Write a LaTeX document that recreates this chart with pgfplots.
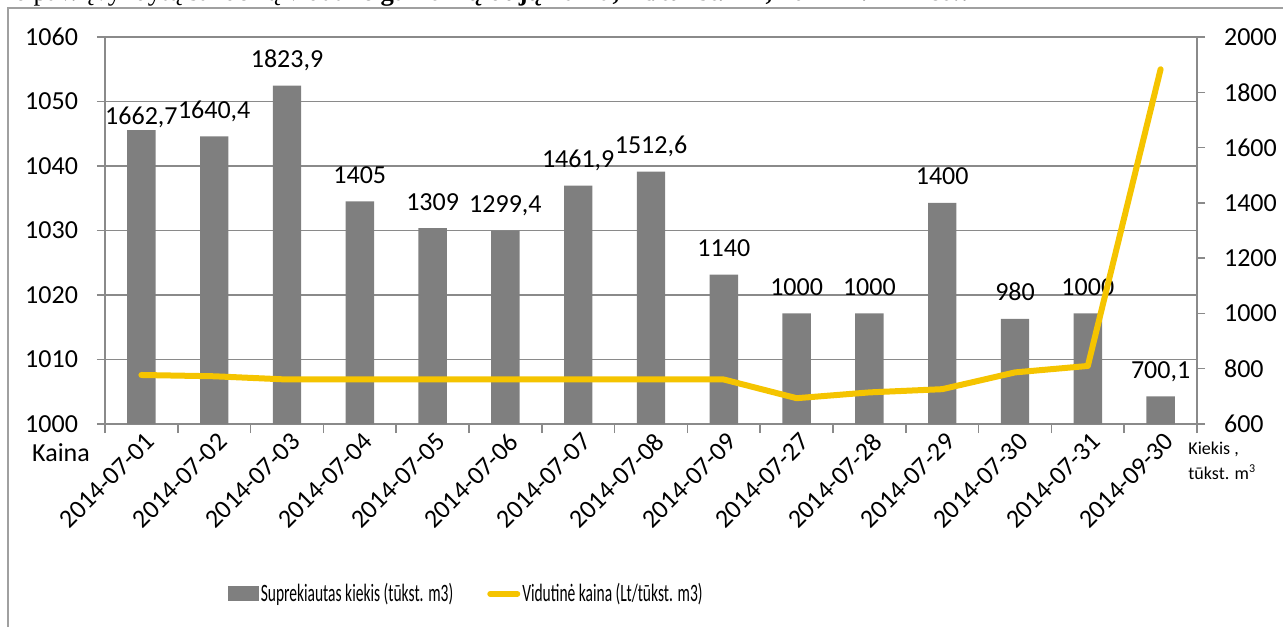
\documentclass[border=0pt]{standalone}
\usepackage{pgfplots}
\pgfplotsset{compat=1.18}
\usepackage{pgfplotstable}
\usepackage{graphicx}
\usepackage{fontspec}
\setmainfont{Carlito}
\newfontfamily\titlefont{Liberation Serif}
\definecolor{barcol}{HTML}{7F7F7F}
\definecolor{linecol}{HTML}{F5C400}
\definecolor{gridcol}{HTML}{8A8A8A}
\definecolor{framecol}{HTML}{A0A0A0}

\pgfplotstableread{
x q lab
0 1662.7 1662,7
1 1640.4 1640,4
2 1823.9 1823,9
3 1405 1405
4 1309 1309
5 1299.4 1299,4
6 1461.9 1461,9
7 1512.6 1512,6
8 1140 1140
9 1000 1000
10 1000 1000
11 1400 1400
12 980 980
13 1000 1000
14 700.1 700,1
}\bars

\pgfplotstableread{
x p
0 1007.6
1 1007.4
2 1006.9
3 1006.9
4 1006.9
5 1006.9
6 1006.9
7 1006.9
8 1006.9
9 1004.0
10 1004.9
11 1005.4
12 1008.0
13 1009.0
14 1055.0
}\price

\newcommand{\tickfont}{\fontsize{13}{15}\selectfont}

\pgfplotsset{
  base/.style={
    scale only axis, width=546pt, height=193.5pt,
    at={(52.5pt,101.5pt)}, anchor=south west,
    xmin=-0.5, xmax=14.5,
    /pgf/number format/assume math mode=true,
    /pgf/number format/1000 sep={},
    tick label style={font=\tickfont},
    axis line style={gridcol, line width=0.75pt},
    tick style={gridcol, line width=0.75pt},
    tick align=outside,
  }
}

\begin{document}
\begin{tikzpicture}[x=1pt,y=1pt]
\useasboundingbox (0,0) rectangle (641.5,313.5);
\begin{scope}
\clip (0,0) rectangle (641.5,313.5);
\node[anchor=base west, inner sep=0pt] at (0,313.3) {\titlefont\fontsize{13.3}{15}\selectfont 16 pav. Įvykdytų sandorių vidutinė \textbf{gamtinių dujų kaina, Lt/tūkst. m\textsuperscript{3}, 2014 m. III ketv.}};
\end{scope}
\draw[framecol, line width=0.75pt] (4,0) -- (4,309.5) -- (642,309.5);

% axis 1: grid, left scale, x axis
\begin{axis}[base,
  ymin=1000, ymax=1060, ytick={1000,1010,...,1060},
  ymajorgrids, grid style={gridcol, line width=0.75pt},
  axis x line*=bottom, axis y line*=left,
  xtick={0,...,14},
  xticklabels={2014-07-01,2014-07-02,2014-07-03,2014-07-04,2014-07-05,2014-07-06,2014-07-07,2014-07-08,2014-07-09,2014-07-27,2014-07-28,2014-07-29,2014-07-30,2014-07-31,2014-09-30},
  major x tick style={draw=none},
  minor xtick={-0.5,0.5,...,14.5},
  minor tick length=4.5pt,
  major tick length=4pt,
  xticklabel style={rotate=45, anchor=east, font=\tickfont, xshift=4.5pt, yshift=-5pt},
  yticklabel style={xshift=-6pt},
]
\addplot[draw=none] coordinates {(0,1000)};
\end{axis}

% axis 2: bars, right scale
\begin{axis}[base,
  ymin=600, ymax=2000, ytick={600,800,...,2000},
  axis y line*=right, axis x line=none,
  major tick length=4pt,
  yticklabel style={xshift=6pt},
  ybar, bar width=14.2pt,
]
\addplot[fill=barcol, draw=none,
  nodes near coords, point meta=explicit symbolic,
  every node near coord/.append style={font=\tickfont, anchor=base, yshift=9pt, text=black},
  coordinate style/.condition={\coordindex==0}{yshift=-6.2pt},
] table[x=x, y=q, meta=lab] {\bars};
\end{axis}

% axis 3: price line
\begin{axis}[base,
  ymin=1000, ymax=1060, axis lines=none,
  legend columns=2,
  legend style={at={(0.1126,-0.439)}, anchor=west, draw=none, fill=none,
    inner sep=0pt, outer sep=0pt,
    nodes={inner xsep=1pt, inner ysep=0pt},
    font=\fontsize{12.5}{14}\selectfont,
    /tikz/every even column/.append style={column sep=16pt}},
]
\addlegendimage{legend image code/.code={\fill[barcol] (0pt,-3.5pt) rectangle (15pt,3.5pt);}}
\addlegendentry{\scalebox{0.62}[1]{Suprekiautas kiekis (tūkst. m3)}}
\addplot[linecol, line width=3pt, line join=round, line cap=round,
  legend image code/.code={\draw[linecol, line width=3pt, line cap=round] (1.5pt,0pt) -- (15pt,0pt);}]
  table[x=x, y=p] {\price};
\addlegendentry{\scalebox{0.62}[1]{Vidutinė kaina (Lt/tūkst. m3)}}
\end{axis}

\node[font=\tickfont] at (30.5,87) {Kaina};
\node[anchor=west, align=left, font=\fontsize{9}{12.5}\selectfont, inner sep=0pt] at (594,83) {Kiekis ,\\tūkst. m\textsuperscript{3}};
\end{tikzpicture}
\end{document}
